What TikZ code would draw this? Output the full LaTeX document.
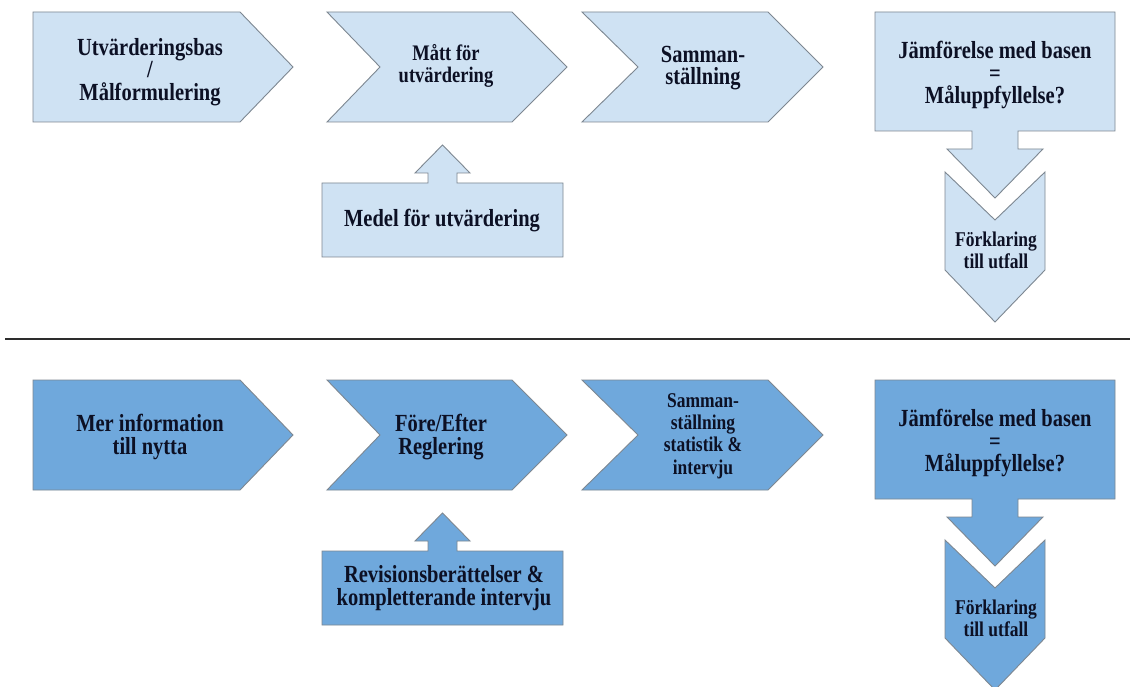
\documentclass[tikz,border=0pt]{standalone}
\usepackage{fontspec}
\setmainfont{Liberation Serif}
\definecolor{lightfill}{RGB}{207,226,243}
\definecolor{darkfill}{RGB}{111,168,220}
\definecolor{edgegray}{RGB}{125,135,145}
\definecolor{ink}{RGB}{12,16,36}
\definecolor{rulegray}{RGB}{45,45,45}
\tikzset{
  lightshape/.style={fill=lightfill, draw=edgegray, line width=0.9pt, line join=miter},
  darkshape/.style={fill=darkfill, draw=edgegray, line width=0.9pt, line join=miter},
  tallfont/.style={text=ink, align=center, inner sep=0pt, yscale=1.2, transform shape},
  bigtext/.style={tallfont, font=\bfseries\fontsize{20.5}{18.8}\selectfont},
  midtext/.style={tallfont, font=\bfseries\fontsize{18.5}{18.5}\selectfont},
  smalltext/.style={tallfont, font=\bfseries\fontsize{17.5}{18.5}\selectfont},
  separator/.style={draw=rulegray, line width=1.4pt}
}
\newcommand\rowshapes[2]{%
  \begin{scope}[yshift=#2]
    % pentagon arrow
    \draw[#1] (33,12) -- (240,12) -- (293,67) -- (240,122) -- (33,122) -- cycle;
    % chevrons
    \draw[#1] (327,12) -- (512,12) -- (567,67) -- (512,122) -- (327,122) -- (380,67) -- cycle;
    \draw[#1] (582,12) -- (768,12) -- (823,67) -- (768,122) -- (582,122) -- (638,67) -- cycle;
    % box with down arrow
    \draw[#1] (875,12) -- (1115,12) -- (1115,131) -- (1018,131) -- (1018,149) -- (1043,149)
      -- (995,198) -- (947,149) -- (972,149) -- (972,131) -- (875,131) -- cycle;
    % down chevron
    \draw[#1] (945,172) -- (995,220) -- (1045,172) -- (1045,270) -- (995,322) -- (945,270) -- cycle;
    % box with up arrow
    \draw[#1] (322,257) -- (322,183) -- (428,183) -- (428,173) -- (415,173) -- (442.5,145)
      -- (470,173) -- (457,173) -- (457,183) -- (563,183) -- (563,257) -- cycle;
  \end{scope}}
\begin{document}
\begin{tikzpicture}[x=1pt,y=-1pt]
  \useasboundingbox (0,0) rectangle (1130,687);
  \clip (0,0) rectangle (1130,687);
  \fill[white] (0,0) rectangle (1130,687);

  % top row
  \rowshapes{lightshape}{0pt}
  \node[bigtext]   (t1) at (150,72)  {Utvärderingsbas\\/\\Målformulering};
  \node[midtext]   (t2) at (446,66)  {Mått för\\utvärdering};
  \node[bigtext]   (t3) at (703,68)  {Samman-\\ställning};
  \node[bigtext]   (t4) at (995,75)  {Jämförelse med basen\\=\\Måluppfyllelse?};
  \node[smalltext] (t5) at (996,250) {Förklaring\\till utfall};
  \node[bigtext]   (t6) at (442,221) {Medel för utvärdering};

  % separator
  \coordinate (sepL) at (5,339);
  \coordinate (sepR) at (1130,339);
  \draw[separator] (sepL) -- (sepR);

  % bottom row
  \rowshapes{darkshape}{-368pt}
  \node[bigtext]   (b1) at (150,437) {Mer information\\till nytta};
  \node[bigtext]   (b2) at (441,437) {Före/Efter\\Reglering};
  \node[smalltext] (b3) at (703,436) {Samman-\\ställning\\statistik \&\\intervju};
  \node[bigtext]   (b4) at (995,443) {Jämförelse med basen\\=\\Måluppfyllelse?};
  \node[smalltext] (b5) at (996,618) {Förklaring\\till utfall};
  \node[bigtext]   (b6) at (444,588) {Revisionsberättelser \&\\kompletterande intervju};
\end{tikzpicture}
\end{document}
